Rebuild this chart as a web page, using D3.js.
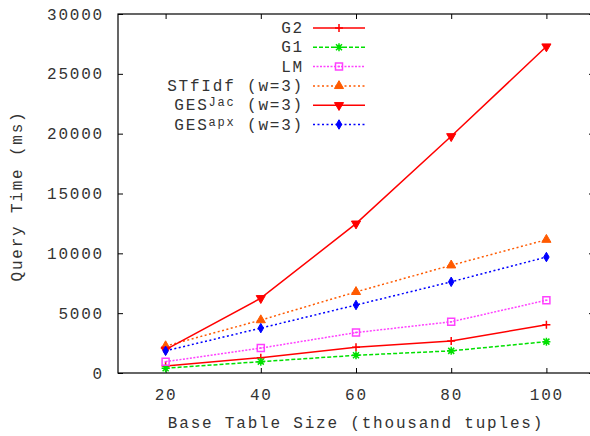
<!DOCTYPE html>
<html>
<head>
<meta charset="utf-8">
<script src="https://cdn.jsdelivr.net/npm/d3@7"></script>
<style>
  body { margin: 0; background: #fff; }
  text { font-family: "Liberation Mono", monospace; font-size: 16px; fill: #333; letter-spacing: 1.8px; }
</style>
</head>
<body>
<script>
const sizes = [20, 40, 60, 80, 100];
const g2 = [580, 1280, 2150, 2680, 4030];
const g1 = [400, 950, 1480, 1850, 2620];
const lm = [950, 2080, 3380, 4280, 6080];
const stfidf = [2250, 4420, 6780, 9000, 11140];
const gesJac = [1950, 6250, 12480, 19780, 27280];
const gesApx = [1850, 3750, 5680, 7620, 9690];
const xTicks = [20, 40, 60, 80, 100];
const yTicks = [0, 5000, 10000, 15000, 20000, 25000, 30000];

const margin = {top: 14, right: -4, bottom: 63, left: 118},
    W = 590, H = 436,
    width = W - margin.left - margin.right,
    height = H - margin.top - margin.bottom;

const svg = d3.select("body").append("svg")
  .attr("width", W)
  .attr("height", H);

const xScale = d3.scaleLinear().domain([10, 110]).range([0, width]);
const yScale = d3.scaleLinear().domain([0, 30000]).range([height, 0]);

const g = svg.append("g").attr("transform", `translate(${margin.left},${margin.top})`);

// frame
g.append("rect")
  .attr("width", width).attr("height", height)
  .attr("fill", "none").attr("stroke", "#000").attr("stroke-width", 1.2);

// ticks (inward, mirrored)
const tickLen = 5;
g.append("g").attr("transform", `translate(0,${height})`)
  .call(d3.axisBottom(xScale).tickValues(xTicks).tickSizeInner(-tickLen).tickSizeOuter(0).tickPadding(16))
  .call(a => a.select(".domain").remove());
g.append("g")
  .call(d3.axisTop(xScale).tickValues(xTicks).tickSizeInner(-tickLen).tickSizeOuter(0).tickFormat(""))
  .call(a => a.select(".domain").remove());
g.append("g")
  .call(d3.axisLeft(yScale).tickValues(yTicks).tickSizeInner(-tickLen).tickSizeOuter(0).tickPadding(14).tickFormat(d3.format("d")))
  .call(a => a.select(".domain").remove());
g.append("g").attr("transform", `translate(${width},0)`)
  .call(d3.axisRight(yScale).tickValues(yTicks).tickSizeInner(-tickLen).tickSizeOuter(0).tickFormat(""))
  .call(a => a.select(".domain").remove());

svg.selectAll(".tick line").attr("stroke", "#000");
svg.selectAll(".tick text")
  .style("font-family", '"Liberation Mono", monospace')
  .style("font-size", "16px")
  .attr("fill", "#333");

// axis labels
svg.append("text")
  .attr("x", margin.left + xScale(60)).attr("y", 428)
  .attr("text-anchor", "middle")
  .text("Base Table Size (thousand tuples)");
svg.append("text")
  .attr("transform", "translate(22,196) rotate(-90)")
  .attr("text-anchor", "middle")
  .text("Query Time (ms)");

// marker shapes
const markers = {
  plus: "M-4,0H4M0,-4V4",
  star: "M-3,-3L3,3M-3,3L3,-3M-4,0H4M0,-4V4",
  box: "M-3.5,-3.5H3.5V3.5H-3.5Z M-1,0H1",
  up: d3.symbol(d3.symbolTriangle, 36)(),
  down: d3.symbol(d3.symbolTriangle, 36)(),
  diamond: d3.symbol(d3.symbolDiamond, 26)()
};

const series = [
  {name: "G2", sup: null, tail: "", values: g2, color: "#ff0000", dash: null, marker: "plus", fill: false},
  {name: "G1", sup: null, tail: "", values: g1, color: "#00e000", dash: "4,2", marker: "star", fill: false},
  {name: "LM", sup: null, tail: "", values: lm, color: "#ff40ff", dash: "2,1.5", marker: "box", fill: false},
  {name: "STfIdf", sup: null, tail: " (w=3)", values: stfidf, color: "#ff5a00", dash: "2,2.5", marker: "up", fill: true},
  {name: "GES", sup: "Jac", tail: " (w=3)", values: gesJac, color: "#ff0000", dash: null, marker: "down", fill: true},
  {name: "GES", sup: "apx", tail: " (w=3)", values: gesApx, color: "#0000ff", dash: "2,2.5", marker: "diamond", fill: true}
];

const line = d3.line()
  .x((d, i) => xScale(sizes[i]))
  .y(d => yScale(d));

function drawMarker(sel, s, x, y) {
  const p = sel.append("path")
    .attr("d", markers[s.marker])
    .attr("transform", `translate(${x},${y})` + (s.marker === "down" ? " rotate(180)" : ""));
  if (s.fill) p.attr("fill", s.color).attr("stroke", s.color).attr("stroke-width", 1);
  else p.attr("fill", "none").attr("stroke", s.color).attr("stroke-width", 1.5);
}

series.forEach(s => {
  g.append("path")
    .attr("d", line(s.values))
    .attr("fill", "none")
    .attr("stroke", s.color)
    .attr("stroke-width", 1.5)
    .attr("stroke-dasharray", s.dash);
  s.values.forEach((v, i) => drawMarker(g, s, xScale(sizes[i]), yScale(v)));
});

// legend
const legend = svg.append("g");
series.forEach((s, i) => {
  const y = 28 + i * 19.3;
  const t = legend.append("text")
    .attr("x", 304).attr("y", y + 5)
    .attr("text-anchor", "end");
  t.append("tspan").text(s.name);
  if (s.sup) {
    t.append("tspan").attr("dy", -4).style("font-size", "12px").text(s.sup);
    t.append("tspan").attr("dy", 4).text(s.tail);
  } else {
    t.append("tspan").text(s.tail);
  }
  legend.append("line")
    .attr("x1", 313).attr("x2", 365)
    .attr("y1", y).attr("y2", y)
    .attr("stroke", s.color)
    .attr("stroke-width", 1.5)
    .attr("stroke-dasharray", s.dash);
  drawMarker(legend, s, 339, y);
});
</script>
</body>
</html>
